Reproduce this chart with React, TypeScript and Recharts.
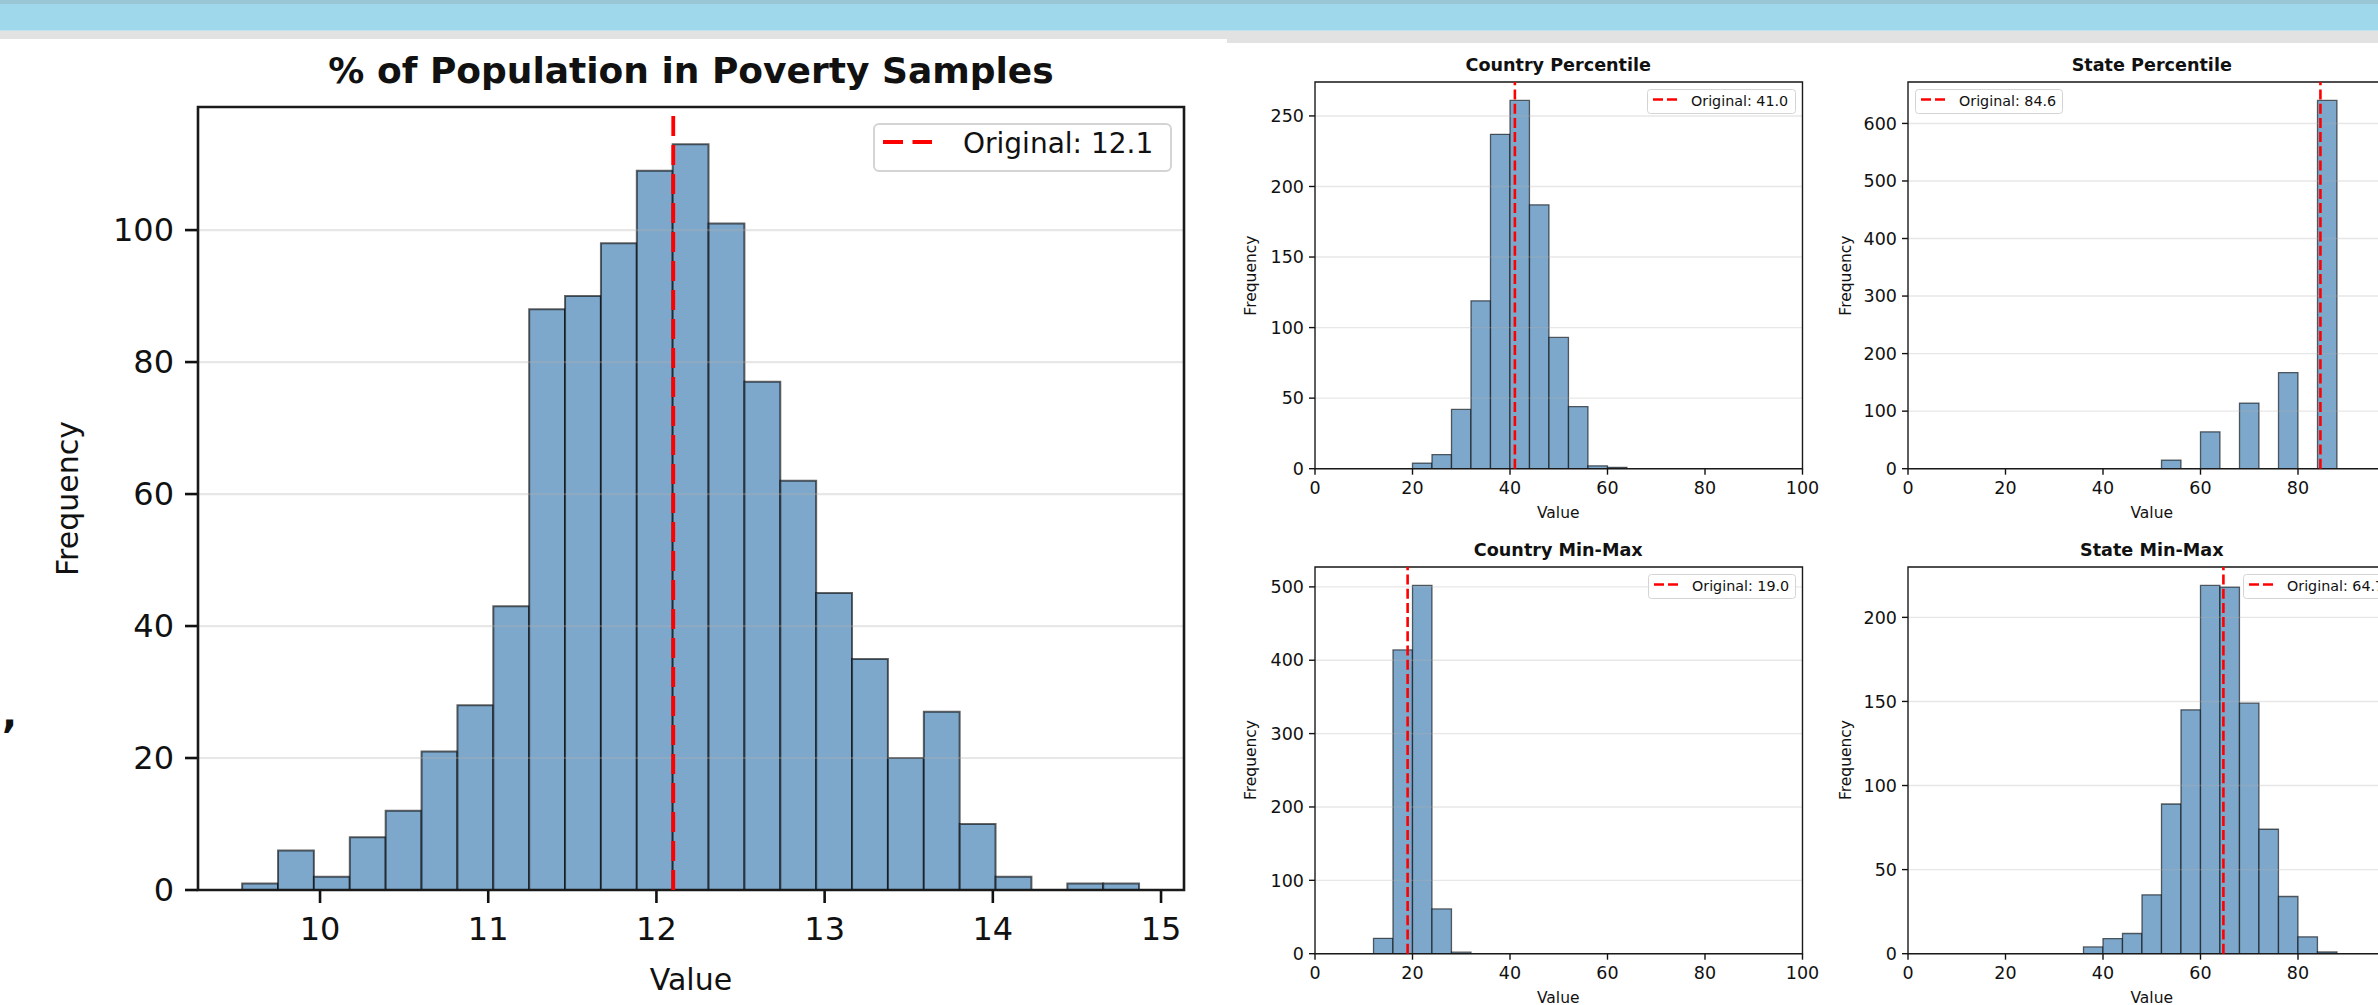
import React from "react";
import { ComposedChart, Bar, XAxis, YAxis, CartesianGrid, ReferenceLine, ReferenceArea, Legend } from "recharts";

const FONT = "'DejaVu Sans', Verdana, sans-serif";
const INK = "#111";

// % of Population in Poverty Samples (bin centres)
const povertyBins = [9.6437, 9.857, 10.0703, 10.2836, 10.4969, 10.7102, 10.9235, 11.1368, 11.3501, 11.5634, 11.7767, 11.99, 12.2033, 12.4166, 12.6299, 12.8432, 13.0565, 13.2698, 13.4831, 13.6964, 13.9097, 14.123, 14.3363, 14.5496, 14.7629];
const povertyCounts = [1, 6, 2, 8, 12, 21, 28, 43, 88, 90, 98, 109, 113, 101, 77, 62, 45, 35, 20, 27, 10, 2, 0, 1, 1];
const povertyOriginal = 12.1;
const povertyXTicks = [10, 11, 12, 13, 14, 15];
const povertyYTicks = [0, 20, 40, 60, 80, 100];

// Country Percentile
const countryPctBins = [22, 26, 30, 34, 38, 42, 46, 50, 54, 58, 62];
const countryPctCounts = [4, 10, 42, 119, 237, 261, 187, 93, 44, 2, 1];
const countryPctOriginal = 41.0;
const countryPctYTicks = [0, 50, 100, 150, 200, 250];

// State Percentile
const statePctBins = [54, 58, 62, 66, 70, 74, 78, 82, 86];
const statePctCounts = [15, 0, 64, 0, 114, 0, 167, 0, 640];
const statePctOriginal = 84.6;
const statePctYTicks = [0, 100, 200, 300, 400, 500, 600];

// Country Min-Max
const countryMmBins = [14, 18, 22, 26, 30];
const countryMmCounts = [21, 414, 502, 61, 2];
const countryMmOriginal = 19.0;
const countryMmYTicks = [0, 100, 200, 300, 400, 500];

// State Min-Max
const stateMmBins = [38, 42, 46, 50, 54, 58, 62, 66, 70, 74, 78, 82, 86];
const stateMmCounts = [4, 9, 12, 35, 89, 145, 219, 218, 149, 74, 34, 10, 1];
const stateMmOriginal = 64.7;
const stateMmYTicks = [0, 50, 100, 150, 200];

const countryXTicks = [0, 20, 40, 60, 80, 100];
// the state panels are cut at the page edge before the 100 tick
const stateXTicks = [0, 20, 40, 60, 80];

const BIG = {
  tickFont: 32, tickLen: 13, tickMarginX: 14, tickMarginY: 11, line: 2.6, bar: 2, grid: 2.2,
  ref: 3.8, dash: "20 9", yw: 150, xh: 70,
  lg: { font: 28, sx1: 10, sx2: 59, sy: 19, tx: 90, ty: 30, rx: 5, bw: 2, lw: 4, dash: "20 9.5" },
};
const SMALL = {
  tickFont: 17.5, tickLen: 6, tickMarginX: 7, tickMarginY: 5, line: 1.4, bar: 1.3, grid: 1.4,
  ref: 2.6, dash: "10 4.2", yw: 70, xh: 40,
  lg: { font: 14.3, sx1: 6, sx2: 30, sy: 10.5, tx: 44, ty: 16.5, rx: 3, bw: 1, lw: 2.6, dash: "10 4" },
};

type Theme = typeof BIG;

type HistProps = {
  left: number;
  top: number;
  width: number;
  height: number;
  bins: number[];
  counts: number[];
  xDomain: [number, number];
  xTicks: number[];
  yDomain: [number, number];
  yTicks: number[];
  original: number;
  box: { x: number; y: number; w: number; h: number };
  t: Theme;
};

function LegendBox({ w, h, label, t }: { w: number; h: number; label: string; t: Theme }) {
  const g = t.lg;
  return (
    <svg width={w} height={h} style={{ display: "block", overflow: "visible" }}>
      <rect
        x={g.bw / 2}
        y={g.bw / 2}
        width={w - g.bw}
        height={h - g.bw}
        rx={g.rx}
        fill="#fff"
        fillOpacity={0.8}
        stroke="#d4d4d4"
        strokeWidth={g.bw}
      />
      <line x1={g.sx1} x2={g.sx2} y1={g.sy} y2={g.sy} stroke="#ff0000" strokeWidth={g.lw} strokeDasharray={g.dash} />
      <text x={g.tx} y={g.ty} fontFamily={FONT} fontSize={g.font} fill={INK}>
        {label}
      </text>
    </svg>
  );
}

function Hist(p: HistProps) {
  const t = p.t;
  const mt = 10;
  const mr = 40;
  const cw = t.yw + p.width + mr;
  const ch = mt + p.height + t.xh;
  const cl = p.left - t.yw;
  const ct = p.top - mt;
  const data = p.bins.map((b, i) => ({ x: b, count: p.counts[i] }));
  const binPx = ((p.bins[1] - p.bins[0]) * p.width) / (p.xDomain[1] - p.xDomain[0]);
  const tickStyle = { fontSize: t.tickFont, fill: INK, fontFamily: FONT };
  const tickLine = { stroke: INK, strokeWidth: t.line };
  const label = `Original: ${p.original.toFixed(1)}`;

  return (
    <div style={{ position: "absolute", left: cl, top: ct, width: cw, height: ch }}>
      <ComposedChart
        width={cw}
        height={ch}
        data={data}
        margin={{ top: mt, right: mr, bottom: 0, left: 0 }}
        barCategoryGap={0}
        barGap={0}
      >
        <XAxis
          dataKey="x"
          type="number"
          domain={p.xDomain}
          ticks={p.xTicks}
          allowDataOverflow
          interval={0}
          height={t.xh}
          tickSize={t.tickLen}
          tickMargin={t.tickMarginX}
          axisLine={false}
          tickLine={tickLine}
          tick={tickStyle}
        />
        <YAxis
          type="number"
          domain={p.yDomain}
          ticks={p.yTicks}
          allowDataOverflow
          interval={0}
          width={t.yw}
          tickSize={t.tickLen}
          tickMargin={t.tickMarginY}
          axisLine={false}
          tickLine={tickLine}
          tick={tickStyle}
        />
        <Bar
          dataKey="count"
          fill="#7ea8cb"
          stroke="#000"
          strokeOpacity={0.6}
          strokeWidth={t.bar}
          barSize={binPx - 0.05}
          isAnimationActive={false}
        />
        <CartesianGrid vertical={false} stroke="#b0b0b0" strokeOpacity={0.3} strokeWidth={t.grid} zIndex={350} />
        <ReferenceLine
          x={p.original}
          stroke="#ff0000"
          strokeWidth={t.ref}
          strokeDasharray={t.dash}
          zIndex={700}
        />
        <ReferenceArea
          x1={p.xDomain[0]}
          x2={p.xDomain[1]}
          y1={p.yDomain[0]}
          y2={p.yDomain[1]}
          fill="none"
          fillOpacity={0}
          stroke="#1a1a1a"
          strokeWidth={t.line}
          zIndex={600}
        />
        <Legend
          layout="horizontal"
          align="center"
          verticalAlign="middle"
          wrapperStyle={{
            left: p.box.x - cl,
            top: p.box.y - ct,
            width: p.box.w,
            height: p.box.h,
            right: "auto",
            bottom: "auto",
          }}
          content={() => <LegendBox w={p.box.w} h={p.box.h} label={label} t={t} />}
        />
      </ComposedChart>
    </div>
  );
}

const TOP_W = 487.5;
const TOP_H = 386.7;

export default function App() {
  return (
    <div
      style={{
        position: "absolute",
        left: 0,
        top: 0,
        width: 2378,
        height: 1005,
        overflow: "hidden",
        background: "#fff",
        fontFamily: FONT,
      }}
    >
      {/* page chrome above the figures */}
      <div style={{ position: "absolute", left: 0, top: 0, width: 2378, height: 4, background: "#99c5d5" }} />
      <div style={{ position: "absolute", left: 0, top: 4, width: 2378, height: 26, background: "#9fd8ea" }} />
      <div style={{ position: "absolute", left: 0, top: 30, width: 2378, height: 1, background: "#bfe4ef" }} />
      <div style={{ position: "absolute", left: 0, top: 31, width: 1227, height: 8, background: "#e2e2e2" }} />
      <div style={{ position: "absolute", left: 1227, top: 31, width: 1151, height: 12, background: "#e2e2e2" }} />

      <Hist
        left={198}
        top={107}
        width={986}
        height={783}
        bins={povertyBins}
        counts={povertyCounts}
        xDomain={[9.2745, 15.1365]}
        xTicks={povertyXTicks}
        yDomain={[0, 118.65]}
        yTicks={povertyYTicks}
        original={povertyOriginal}
        box={{ x: 873, y: 123, w: 299, h: 49 }}
        t={BIG}
      />
      <Hist
        left={1314.5}
        top={82.3}
        width={TOP_W}
        height={TOP_H}
        bins={countryPctBins}
        counts={countryPctCounts}
        xDomain={[0, 100]}
        xTicks={countryXTicks}
        yDomain={[0, 274.05]}
        yTicks={countryPctYTicks}
        original={countryPctOriginal}
        box={{ x: 1647, y: 89, w: 149, h: 25 }}
        t={SMALL}
      />
      <Hist
        left={1908}
        top={82.3}
        width={TOP_W}
        height={TOP_H}
        bins={statePctBins}
        counts={statePctCounts}
        xDomain={[0, 100]}
        xTicks={stateXTicks}
        yDomain={[0, 672]}
        yTicks={statePctYTicks}
        original={statePctOriginal}
        box={{ x: 1915, y: 89, w: 148, h: 25 }}
        t={SMALL}
      />
      <Hist
        left={1314.5}
        top={566.7}
        width={TOP_W}
        height={TOP_H}
        bins={countryMmBins}
        counts={countryMmCounts}
        xDomain={[0, 100]}
        xTicks={countryXTicks}
        yDomain={[0, 527.1]}
        yTicks={countryMmYTicks}
        original={countryMmOriginal}
        box={{ x: 1648, y: 574, w: 148, h: 25 }}
        t={SMALL}
      />
      <Hist
        left={1908}
        top={566.7}
        width={TOP_W}
        height={TOP_H}
        bins={stateMmBins}
        counts={stateMmCounts}
        xDomain={[0, 100]}
        xTicks={stateXTicks}
        yDomain={[0, 229.95]}
        yTicks={stateMmYTicks}
        original={stateMmOriginal}
        box={{ x: 2243, y: 574, w: 149, h: 25 }}
        t={SMALL}
      />

      {/* titles and axis labels */}
      <svg
        width={2378}
        height={1005}
        style={{ position: "absolute", left: 0, top: 0, pointerEvents: "none" }}
        fontFamily={FONT}
        fill={INK}
      >
        <text x={691} y={82.5} fontSize={36} fontWeight="bold" textAnchor="middle">
          % of Population in Poverty Samples
        </text>
        <text transform="translate(78,498.5) rotate(-90)" fontSize={30} textAnchor="middle">
          Frequency
        </text>
        <text x={691} y={990} fontSize={30} textAnchor="middle">
          Value
        </text>
        <text x={2} y={727} fontSize={40} fontWeight="bold">
          ,
        </text>

        <text x={1558.25} y={71} fontSize={17.6} fontWeight="bold" textAnchor="middle">
          Country Percentile
        </text>
        <text x={2151.75} y={71} fontSize={17.6} fontWeight="bold" textAnchor="middle">
          State Percentile
        </text>
        <text x={1558.25} y={555.5} fontSize={17.6} fontWeight="bold" textAnchor="middle">
          Country Min-Max
        </text>
        <text x={2151.75} y={555.5} fontSize={17.6} fontWeight="bold" textAnchor="middle">
          State Min-Max
        </text>

        <text transform="translate(1256,275.6) rotate(-90)" fontSize={15.5} textAnchor="middle">
          Frequency
        </text>
        <text transform="translate(1851,275.6) rotate(-90)" fontSize={15.5} textAnchor="middle">
          Frequency
        </text>
        <text transform="translate(1256,760) rotate(-90)" fontSize={15.5} textAnchor="middle">
          Frequency
        </text>
        <text transform="translate(1851,760) rotate(-90)" fontSize={15.5} textAnchor="middle">
          Frequency
        </text>

        <text x={1558.25} y={518} fontSize={15.5} textAnchor="middle">
          Value
        </text>
        <text x={2151.75} y={518} fontSize={15.5} textAnchor="middle">
          Value
        </text>
        <text x={1558.25} y={1002.5} fontSize={15.5} textAnchor="middle">
          Value
        </text>
        <text x={2151.75} y={1002.5} fontSize={15.5} textAnchor="middle">
          Value
        </text>
      </svg>
    </div>
  );
}
